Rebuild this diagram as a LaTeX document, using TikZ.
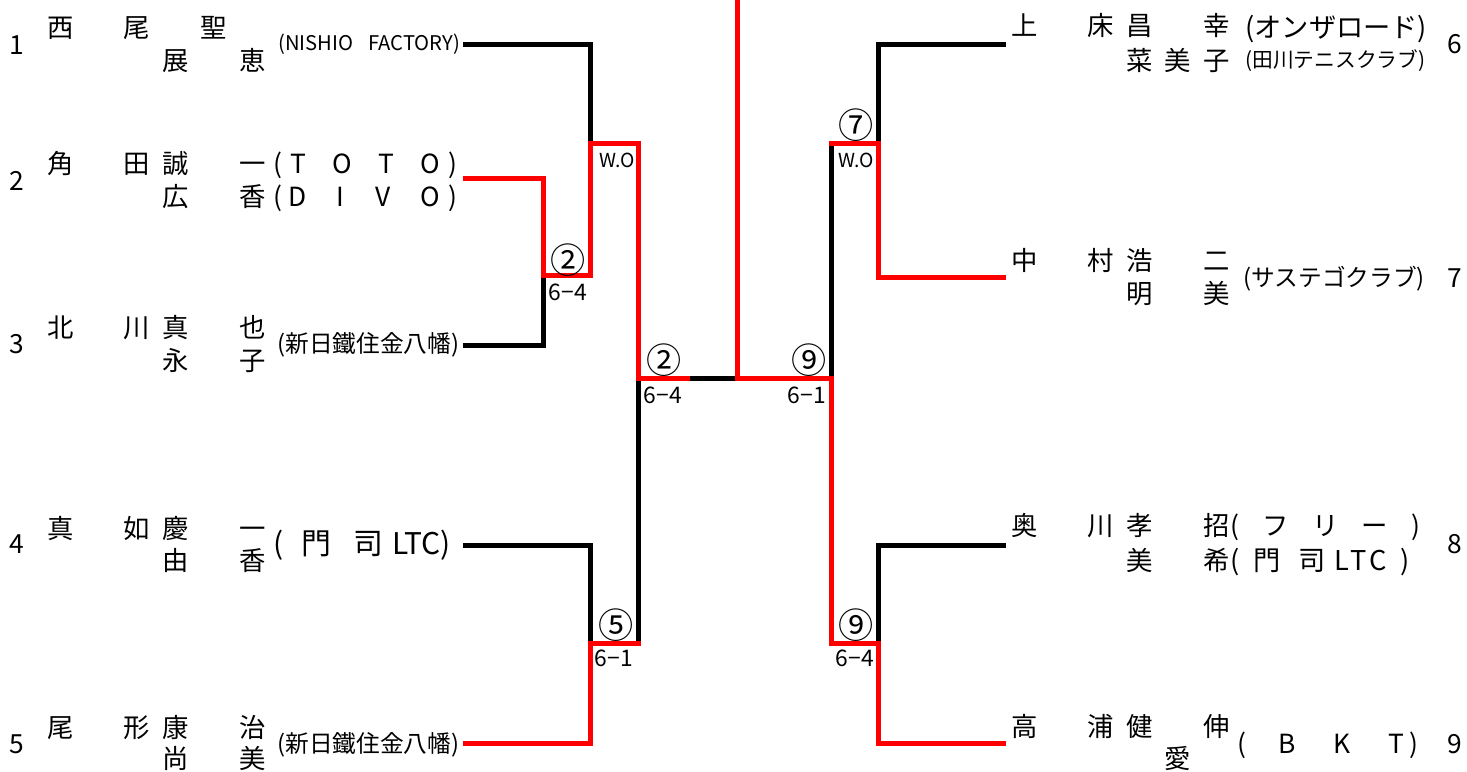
\documentclass[tikz,border=0pt]{standalone}
\usepackage{fontspec}
\newfontfamily\jp{Noto Sans CJK JP}
\newlength\pxu
\setlength\pxu{0.02cm}
\newcommand\pname[5]{\makebox[0pt]{#1}\hspace{76\pxu}\makebox[0pt]{#2}\hspace{39\pxu}\makebox[0pt]{#3}\hspace{38.5\pxu}\makebox[0pt]{#4}\hspace{38.5\pxu}\makebox[0pt]{#5}}
\begin{document}
\begin{tikzpicture}[
        x=0.02cm, y=-0.02cm,
        txt/.style={anchor=west, inner sep=0pt, font={\jp\fontsize{#1}{#1}\selectfont}, text height={0.88*#1pt}, text depth={0.12*#1pt}},
        nm/.style={txt=15},
        seed/.style={txt=15, anchor=center},
        win/.style={txt=20, anchor=center},
        score/.style={txt=13, anchor=center},
        wo/.style={txt=11, anchor=center},
        lose/.style={line width=0.1cm, line cap=rect, black},
        adv/.style={line width=0.1cm, line cap=rect, red}
    ]
        \useasboundingbox (0,0) rectangle (1467,771);

        % left half
        \node[seed] (n1) at (17,44) {1};
        \node[nm] (p1a) at (60,27) {\pname{西}{尾}{}{聖}{}};
        \node[nm] (p1b) at (60,60) {\pname{}{}{展}{}{恵}};
        \node[txt=11.5] (c1) at (278,43) {\makebox[182\pxu][s]{(NISHIO\ \ FACTORY)}};
        \node[seed] (n2) at (17,180) {2};
        \node[nm] (p2a) at (60,163) {\pname{角}{田}{誠}{}{一}};
        \node[nm] (p2b) at (60,196) {\pname{}{}{広}{}{香}};
        \node[txt=15] (c2a) at (273,163) {\makebox[184\pxu][s]{(\hspace{8\pxu}T O T O\hspace{8\pxu})}};
        \node[txt=15] (c2b) at (273,196) {\makebox[184\pxu][s]{(\hspace{6\pxu}D I V O\hspace{8\pxu})}};
        \node[seed] (n3) at (17,343) {3};
        \node[nm] (p3a) at (60,327) {\pname{北}{川}{真}{}{也}};
        \node[nm] (p3b) at (60,360) {\pname{}{}{永}{}{子}};
        \node[txt=13.5] (c3) at (277,343) {(新日鐵住金八幡)};
        \node[seed] (n4) at (17,543) {4};
        \node[nm] (p4a) at (60,528) {\pname{真}{如}{慶}{}{一}};
        \node[nm] (p4b) at (60,560) {\pname{}{}{由}{}{香}};
        \node[txt=17] (c4) at (273,543) {(\hspace{18\pxu}門\hspace{22\pxu}司\hspace{9\pxu}LTC)};
        \node[seed] (n5) at (17,743) {5};
        \node[nm] (p5a) at (60,727) {\pname{尾}{形}{康}{}{治}};
        \node[nm] (p5b) at (60,758) {\pname{}{}{尚}{}{美}};
        \node[txt=13.5] (c5) at (277,743) {(新日鐵住金八幡)};

        % right half
        \node[nm] (p6a) at (1024,25) {\pname{上}{床}{昌}{}{幸}};
        \node[nm] (p6b) at (1024,60) {\pname{}{}{菜}{美}{子}};
        \node[txt=15.5] (c6a) at (1245,27) {(オンザロード)};
        \node[txt=11.8] (c6b) at (1245,60) {(田川テニスクラブ)};
        \node[seed] (n6) at (1455,43) {6};
        \node[nm] (p7a) at (1024,260) {\pname{中}{村}{浩}{}{二}};
        \node[nm] (p7b) at (1024,293) {\pname{}{}{明}{}{美}};
        \node[txt=13.5] (c7) at (1243,277) {(サステゴクラブ)};
        \node[seed] (n7) at (1455,277) {7};
        \node[nm] (p8a) at (1024,525) {\pname{奥}{川}{孝}{}{招}};
        \node[nm] (p8b) at (1024,560) {\pname{}{}{美}{}{希}};
        \node[txt=15] (c8a) at (1230,525) {\makebox[190\pxu][s]{( フ リ ー )}};
        \node[txt=15.5] (c8b) at (1230,560) {(\hspace{14\pxu}門\hspace{18\pxu}司\hspace{8\pxu}L\hspace{2\pxu}T\hspace{2\pxu}C\hspace{14\pxu})};
        \node[seed] (n8) at (1455,543) {8};
        \node[nm] (p9a) at (1024,726) {\pname{高}{浦}{健}{}{伸}};
        \node[nm] (p9b) at (1024,758) {\pname{}{}{}{愛}{}};
        \node[txt=15] (c9) at (1237,743) {(\hspace{32\pxu}B\hspace{38\pxu}K\hspace{38\pxu}T\hspace{5\pxu})};
        \node[seed] (n9) at (1455,743) {9};

        % bracket
        \coordinate (e1) at (465,44);
        \coordinate (e2) at (465,178);
        \coordinate (e3) at (465,345);
        \coordinate (e4) at (465,545);
        \coordinate (e5) at (465,743);
        \coordinate (e6) at (1003,44);
        \coordinate (e7) at (1003,277);
        \coordinate (e8) at (1003,545);
        \coordinate (e9) at (1003,743);
        \coordinate (j23) at (543,275);
        \coordinate (j1) at (590,143);
        \coordinate (j45) at (590,643);
        \coordinate (jL) at (638,378);
        \coordinate (jM) at (687,378);
        \coordinate (jC) at (737,378);
        \coordinate (top) at (737,0);
        \coordinate (jR) at (831,378);
        \coordinate (j67) at (878,143);
        \coordinate (j89) at (878,643);

        \draw[lose] (e1) -| (j1);
        \draw[lose] (e3) -| (j23);
        \draw[lose] (e4) -| (j45);
        \draw[lose] (j45 -| jL) -- (jL);
        \draw[lose] (jM) -- (jC);
        \draw[lose] (e6) -| (j67);
        \draw[lose] (j67 -| jR) -- (jR);
        \draw[lose] (e8) -| (j89);

        \draw[adv] (e2) -| (j23);
        \draw[adv] (j23) -| (j1);
        \draw[adv] (j1) -| (jL);
        \draw[adv] (e5) -| (j45);
        \draw[adv] (j45) -- (j45 -| jL);
        \draw[adv] (jL) -- (jM);
        \draw[adv] (top) -- (jC) -- (jR);
        \draw[adv] (e7) -| (j67);
        \draw[adv] (j67) -- (j67 -| jR);
        \draw[adv] (e9) -| (j89);
        \draw[adv] (j89) -| (jR);

        \node[win] (w23) at (568,260) {②};
        \node[score] (s23) at (568,292) {6−4};
        \node[wo] (s1) at (617,160) {W.O};
        \node[win] (wL) at (664,360) {②};
        \node[score] (sL) at (663,395) {6−4};
        \node[win] (w45) at (616,625) {⑤};
        \node[score] (s45) at (614,658) {6−1};
        \node[win] (wR) at (809,360) {⑨};
        \node[score] (sR) at (807,395) {6−1};
        \node[win] (w67) at (856,125) {⑦};
        \node[wo] (s67) at (856,160) {W.O};
        \node[win] (w89) at (856,625) {⑨};
        \node[score] (s89) at (855,658) {6−4};
    \end{tikzpicture}
\end{document}
